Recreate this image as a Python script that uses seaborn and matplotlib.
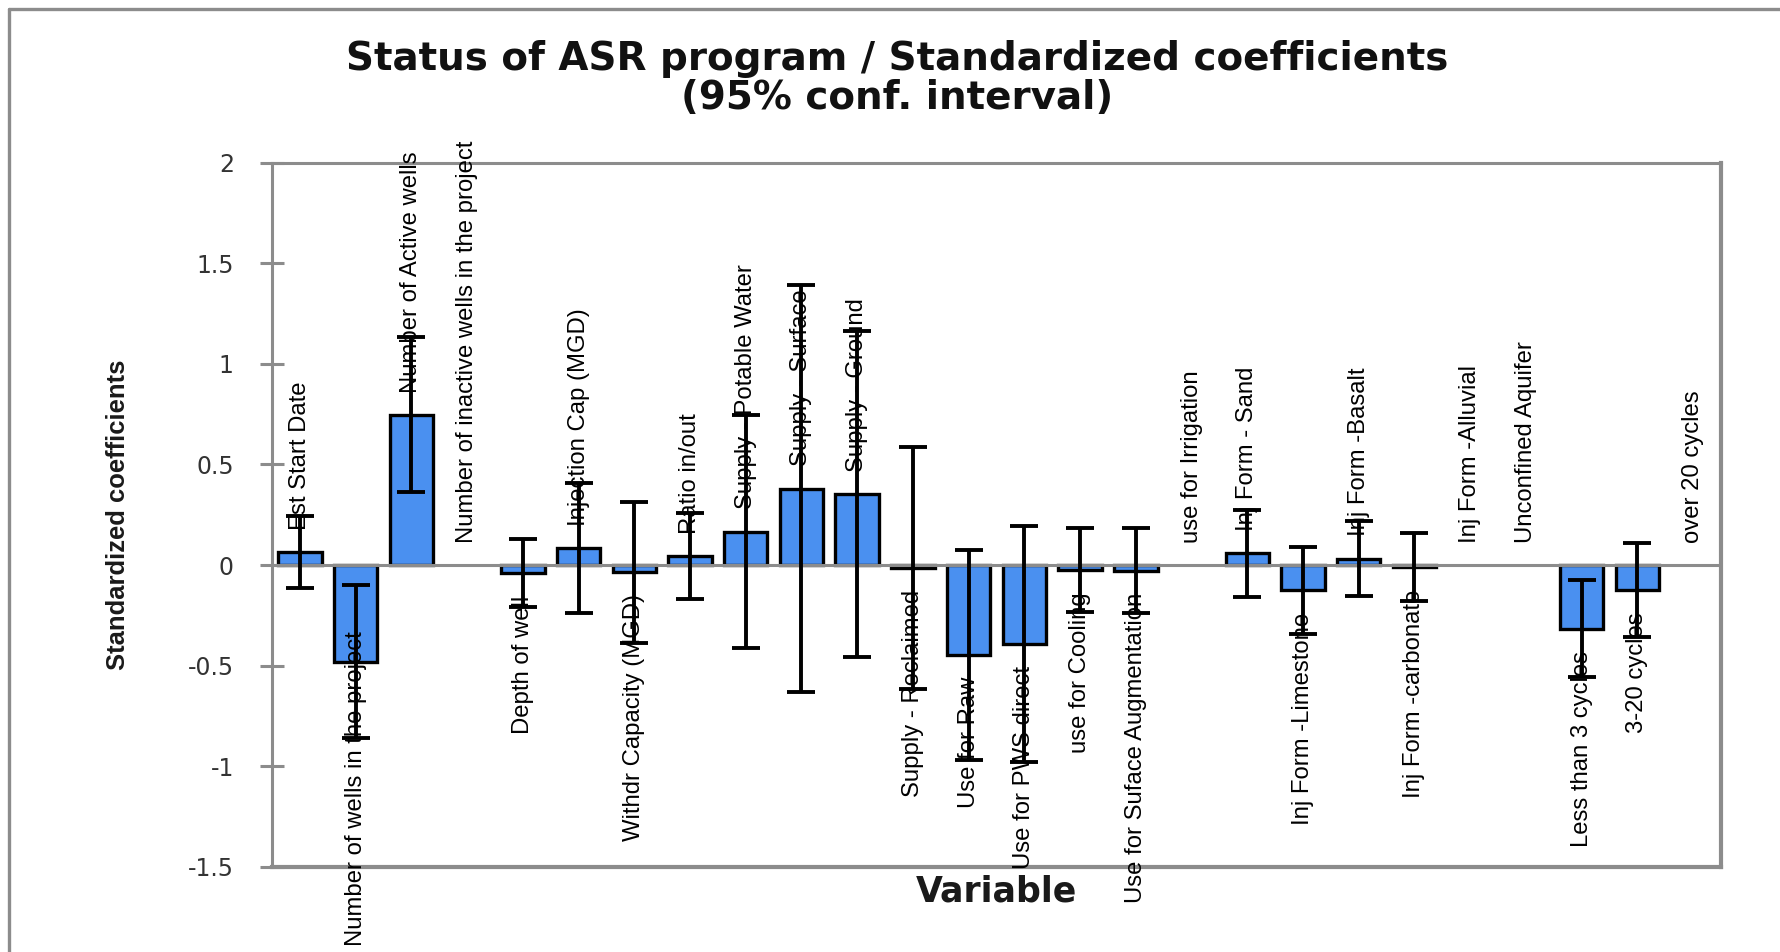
import numpy as np
import pandas as pd
import matplotlib
matplotlib.use("Agg")
import matplotlib.pyplot as plt
import matplotlib.font_manager as fm
from matplotlib.lines import Line2D
from matplotlib.ticker import FixedLocator, FuncFormatter
import seaborn as sns

# ---------------- data ----------------
variables = [
    "Est Start Date",
    "Number of wells in the project",
    "Number of Active wells",
    "Number of inactive wells in the project",
    "Depth of well",
    "Injection Cap (MGD)",
    "Withdr Capacity (MGD)",
    "Ratio in/out",
    "Supply - Potable Water",
    "Supply - Surface",
    "Supply - Ground",
    "Supply - Reclaimed",
    "Use for Raw",
    "Use for PWS direct",
    "use for Cooling",
    "Use for Suface Augmentation",
    "use for Irrigation",
    "Inj Form - Sand",
    "Inj Form -Limestone",
    "Inj Form -Basalt",
    "Inj Form -carbonate",
    "Inj Form -Alluvial",
    "Unconfined Aquifer",
    "Less than 3 cycles",
    "3-20 cycles",
    "over 20 cycles",
]
coefficients = [
    0.066, -0.480, 0.746, np.nan, -0.040, 0.085, -0.035, 0.045, 0.166, 0.380,
    0.352, -0.015, -0.446, -0.392, -0.025, -0.027, np.nan, 0.059, -0.125, 0.032,
    -0.010, np.nan, np.nan, -0.316, -0.125, np.nan,
]
ci_half_width = [
    0.178, 0.380, 0.385, np.nan, 0.170, 0.325, 0.350, 0.215, 0.578, 1.010,
    0.810, 0.600, 0.520, 0.585, 0.207, 0.210, np.nan, 0.216, 0.215, 0.188,
    0.170, np.nan, np.nan, 0.242, 0.234, np.nan,
]
y_ticks = [-1.5, -1.0, -0.5, 0.0, 0.5, 1.0, 1.5, 2.0]
chart_title = "Status of ASR program / Standardized coefficients\n(95% conf. interval)"
x_title = "Variable"
y_title = "Standardized coefficients"

# ---------------- style ----------------
sns.set_style("white")
plt.rcParams["font.family"] = ["DejaVu Sans"]
plt.rcParams["axes.unicode_minus"] = False

_avail = {f.name for f in fm.fontManager.ttflist}
if "Liberation Sans Narrow" in _avail:
    NARROW, NSCALE = "Liberation Sans Narrow", 1.0
elif "Liberation Sans" in _avail:
    NARROW, NSCALE = "Liberation Sans", 0.82
else:
    NARROW, NSCALE = "DejaVu Sans", 0.75

BAR = "#4A90F0"
GRAY = "#8C8C8C"
W, H = 1781, 952

fig = plt.figure(figsize=(W / 100, H / 100), dpi=100)
fig.patch.set_facecolor("white")
ax = fig.add_axes([272 / W, 1 - 867 / H, (1721 - 272) / W, (867 - 162.5) / H])

df = pd.DataFrame({"Variable": variables, "Coefficient": coefficients})
sns.barplot(data=df, x="Variable", y="Coefficient", order=variables,
            color=BAR, saturation=1, width=0.78, edgecolor="black",
            linewidth=2.4, errorbar=None, ax=ax, zorder=2)
for p in ax.patches:
    h = p.get_height()
    if not np.isfinite(h) or h == 0:
        p.set_visible(False)

x = np.arange(len(variables))
vals = np.asarray(coefficients, float)
errs = np.asarray(ci_half_width, float)
m = np.isfinite(vals) & np.isfinite(errs)
ax.errorbar(x[m], vals[m], yerr=errs[m], fmt="none", ecolor="black",
            elinewidth=2.8, capsize=10, capthick=2.8, zorder=4)

ax.axhline(0, color=GRAY, lw=2.2, zorder=3)

ax.set_xlim(-0.5, len(variables) - 0.5)
ax.set_ylim(y_ticks[0], y_ticks[-1])
ax.yaxis.set_major_locator(FixedLocator(y_ticks))
ax.yaxis.set_major_formatter(FuncFormatter(lambda v, p: f"{v:g}"))
ax.set_xticks([])
ax.tick_params(axis="y", direction="inout", length=17, width=2.2, color=GRAY,
               pad=19, labelsize=17, labelcolor="#333333", left=True)
for side in ["left", "top"]:
    ax.spines[side].set_color(GRAY)
    ax.spines[side].set_linewidth(2.2)
for side in ["right", "bottom"]:
    ax.spines[side].set_color(GRAY)
    ax.spines[side].set_linewidth(3.0)

ax.set_xlabel(x_title, fontsize=25, fontweight="bold", color="#1a1a1a", va="center")
ax.xaxis.set_label_coords(0.5, -(892 - 867) / (867 - 162.5))
ax.set_ylabel(y_title, fontsize=22.5 * NSCALE, fontweight="bold",
              family=[NARROW, "DejaVu Sans"], color="#1a1a1a", va="center")
ax.yaxis.set_label_coords((118 - 272) / (1721 - 272), 0.5)

fig.text(0.504, 1 - 78.5 / H, chart_title, ha="center", va="center",
         multialignment="center", fontsize=28, fontweight="bold", color="#111111",
         linespacing=1.05)

# category labels at bar ends
anns = []
for i, (name, v) in enumerate(zip(variables, coefficients)):
    base = 0.0 if not np.isfinite(v) else v
    up = (not np.isfinite(v)) or v >= 0
    off = 16 if up else -16
    a = ax.annotate(name, xy=(i, base), xytext=(0, off), textcoords="offset points",
                    rotation=90, ha="center", va="bottom" if up else "top",
                    fontsize=21 * NSCALE, family=[NARROW, "DejaVu Sans"],
                    color="black", zorder=5, annotation_clip=False)
    anns.append((a, off))

# frame of the chart area (left and top edges visible)
fig.add_artist(Line2D([8.5 / W, 8.5 / W], [0, 1 - 9 / H], transform=fig.transFigure,
                      color=GRAY, lw=2.4))
fig.add_artist(Line2D([8.5 / W, 1], [1 - 9 / H, 1 - 9 / H], transform=fig.transFigure,
                      color=GRAY, lw=2.4))

# keep labels inside the chart area
fig.canvas.draw()
r = fig.canvas.get_renderer()
for a, off in anns:
    bb = a.get_window_extent(r)
    if bb.y0 < 6:
        shift = (6 - bb.y0) * 72 / fig.dpi
        a.xyann = (0, off + shift)

fig.savefig("out.png", dpi=100, facecolor="white")
